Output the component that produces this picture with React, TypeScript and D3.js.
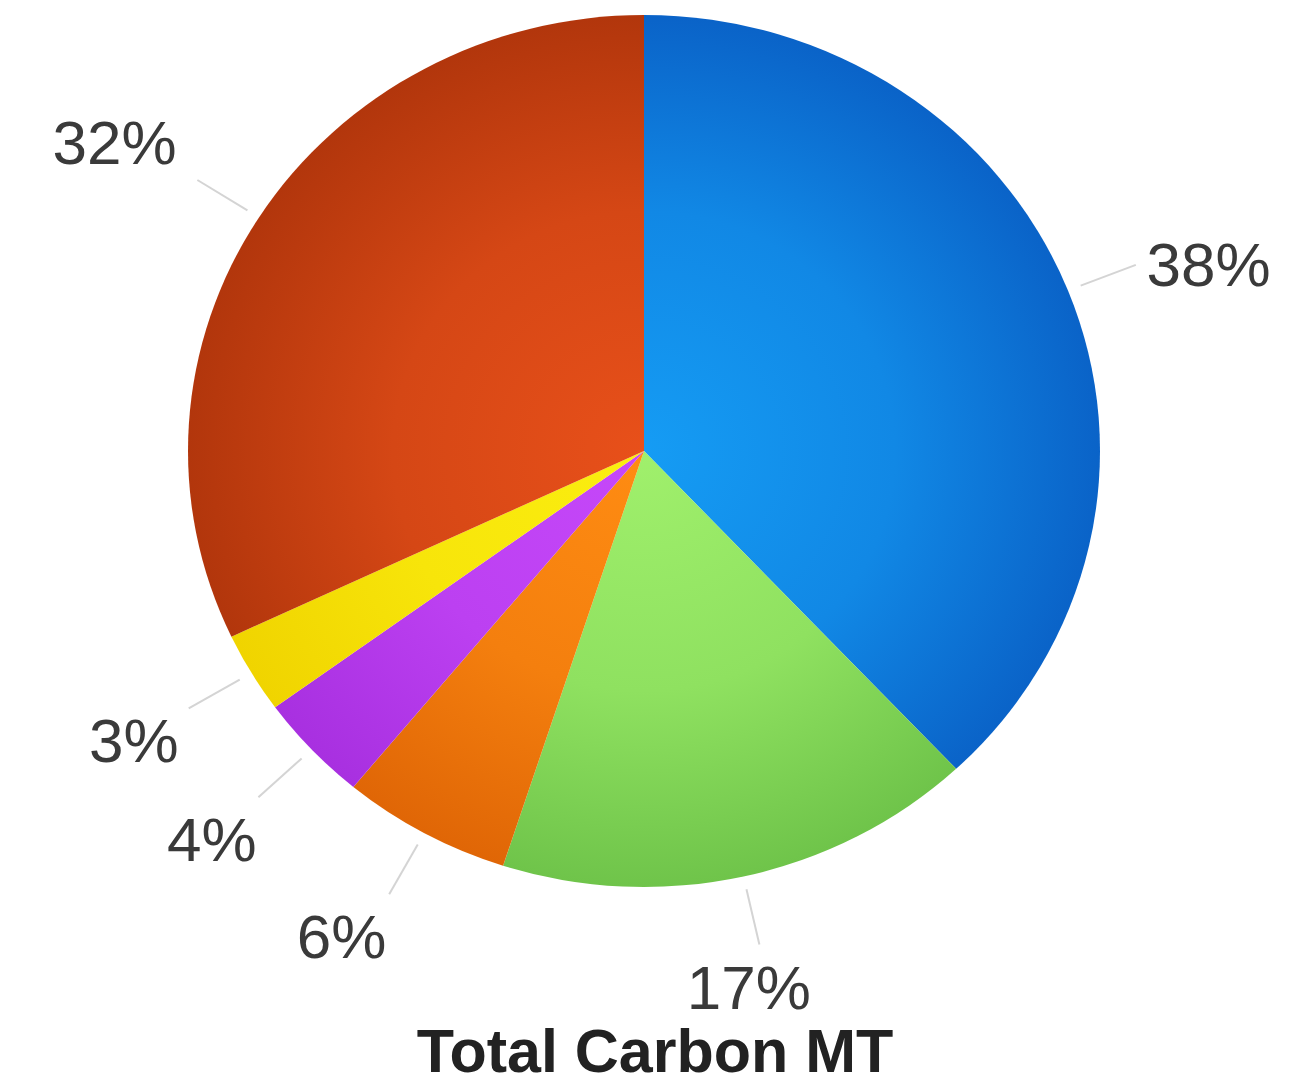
import React from 'react'
import * as d3 from 'd3'

const categories = ['Blue', 'Green', 'Orange', 'Purple', 'Yellow', 'Red']
const values = [38, 17, 6, 4, 3, 32]
const labels = ['38%', '17%', '6%', '4%', '3%', '32%']
const innerColors = ['#159cf4', '#a0f06c', '#ff8c12', '#c648fa', '#fbee10', '#e8501a']
const outerColors = ['#0a63c8', '#6fc44a', '#e06606', '#a830e0', '#f0d400', '#b2360c']
const title = 'Total Carbon MT'

const width = 1291
const height = 1086
const cx = 644
const cy = 451
const rx = 456
const ry = 436

// label placement tweaks (radius factor, angle nudge in degrees)
const labelK = [1.31, 1.25, 1.295, 1.3, 1.3, 1.36]
const labelTurn = [2.5, 2, 2, 0, 0, -1]

export default function App() {
  const pie = d3.pie<number>().value(d => d).sort(null)
  const arcs = pie(values)
  const arc = d3.arc<d3.PieArcDatum<number>>().innerRadius(0).outerRadius(rx)
  const sy = ry / rx

  // point at a given radius factor along a slice's mid angle (elliptical)
  const at = (a: d3.PieArcDatum<number>, k: number, turn = 0) => {
    const m = (a.startAngle + a.endAngle) / 2 + (turn * Math.PI) / 180
    return [cx + Math.sin(m) * rx * k, cy - Math.cos(m) * ry * k]
  }

  return (
    <svg width={width} height={height} style={{ position: 'absolute', left: 0, top: 0, background: '#fff' }}>
      <defs>
        {categories.map((c, i) => (
          <radialGradient key={c} id={'g' + i} gradientUnits="userSpaceOnUse" cx={0} cy={0} r={rx}>
            <stop offset="0%" stopColor={innerColors[i]} />
            <stop offset="55%" stopColor={d3.interpolateRgb(innerColors[i], outerColors[i])(0.35)} />
            <stop offset="100%" stopColor={outerColors[i]} />
          </radialGradient>
        ))}
      </defs>
      <g transform={`translate(${cx},${cy}) scale(1,${sy})`}>
        {arcs.map((a, i) => (
          <path key={categories[i]} d={arc(a) || ''} fill={`url(#g${i})`} />
        ))}
      </g>
      <g>
        {arcs.map((a, i) => {
          const [x1, y1] = at(a, 1.03)
          const [x2, y2] = at(a, 1.16)
          const [tx, ty] = at(a, labelK[i], labelTurn[i])
          return (
            <g key={categories[i]}>
              <line x1={x1} y1={y1} x2={x2} y2={y2} stroke="#d4d4d4" strokeWidth={2} />
              <text x={tx} y={ty} dy="0.36em" textAnchor="middle"
                fontFamily="Liberation Sans, Arial, sans-serif" fontSize={62} fill="#3a3a3a">
                {labels[i]}
              </text>
            </g>
          )
        })}
      </g>
      <text x={655} y={1072} textAnchor="middle" fontFamily="Liberation Sans, Arial, sans-serif"
        fontWeight="bold" fontSize={61} fill="#222">
        {title}
      </text>
    </svg>
  )
}
